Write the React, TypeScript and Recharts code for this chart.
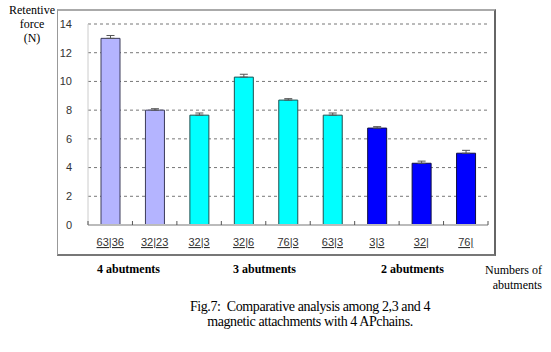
import React from 'react';
import { ComposedChart, Bar, Cell, XAxis, YAxis, CartesianGrid, ErrorBar } from 'recharts';

const labels = ['63|36', '32|23', '32|3', '32|6', '76|3', '63|3', '3|3', '32|', '76|'];
const values = [13.0, 8.0, 7.65, 10.3, 8.7, 7.65, 6.75, 4.3, 5.0];
const errors = [0.2, 0.1, 0.15, 0.2, 0.1, 0.15, 0.1, 0.15, 0.2];
const groups = [4, 4, 3, 3, 3, 3, 2, 2, 2];
const yTicks = [0, 2, 4, 6, 8, 10, 12, 14];

const groupColors: Record<number, string> = { 4: '#b4b4ff', 3: '#00ffff', 2: '#0000ff' };
const groupStroke: Record<number, string> = { 4: '#3c3c5a', 3: '#1e5050', 2: '#101040' };

const data = labels.map((name, i) => ({ name, value: values[i], err: [0, errors[i]], group: groups[i] }));

const serif = '"Liberation Serif", "Times New Roman", serif';
const sans = '"Liberation Sans", Arial, sans-serif';

const CategoryTick = (props: any) => {
  const { x, y, payload, index, visibleTicksCount } = props;
  const off = payload.offset || 22;
  return (
    <g>
      <line x1={x - off} x2={x - off} y1={y - 4} y2={y} stroke="#555" />
      {index === visibleTicksCount - 1 && (
        <line x1={x + off} x2={x + off} y1={y - 4} y2={y} stroke="#555" />
      )}
      <text x={x} y={y + 21} textAnchor="middle" fontSize={11} fill="#333" fontFamily={sans}
        textDecoration="underline">
        {payload.value}
      </text>
    </g>
  );
};

const abs = (left: number, top: number, extra: React.CSSProperties = {}): React.CSSProperties => ({
  position: 'absolute', left, top, fontFamily: serif, color: '#000', whiteSpace: 'nowrap', ...extra,
});

export default function App() {
  return (
    <div style={{ position: 'absolute', left: 0, top: 0, width: 551, height: 352, background: '#fff' }}>
      <div style={{ position: 'absolute', left: 57, top: 9, width: 436, height: 243,
        borderTop: '2px solid #aaa', borderLeft: '1px solid #999', borderRight: '2px solid #666',
        borderBottom: '2px solid #777' }} />
      <div style={{ position: 'absolute', left: 0, top: 0 }}>
        <ComposedChart width={551} height={352} data={data}
          margin={{ top: 24, right: 63, bottom: 97, left: 58 }}>
          <CartesianGrid horizontal vertical={false} strokeDasharray="3 3" stroke="#777" />
          <XAxis dataKey="name" height={30} tickSize={0} tickMargin={0} tickLine={false}
            axisLine={{ stroke: '#bbb', strokeWidth: 2 }} tick={<CategoryTick />} interval={0} />
          <YAxis width={30} domain={[0, 14]} ticks={yTicks} tickLine={false} tickSize={0} tickMargin={16}
            axisLine={{ stroke: '#ccc' }} tick={{ fontSize: 11, fill: '#333', fontFamily: sans }} />
          <Bar dataKey="value" barSize={19} isAnimationActive={false}>
            {data.map((d, i) => (
              <Cell key={i} fill={groupColors[d.group]} stroke={groupStroke[d.group]} strokeWidth={1} />
            ))}
            <ErrorBar dataKey="err" width={4} stroke="#555" strokeWidth={1} />
          </Bar>
        </ComposedChart>
      </div>
      <div style={abs(4, 3, { width: 56, textAlign: 'center', fontSize: 12, lineHeight: '14px' })}>
        Retentive<br />force<br />(N)
      </div>
      <div style={abs(97, 262, { fontSize: 12, fontWeight: 'bold' })}>4 abutments</div>
      <div style={abs(233, 262, { fontSize: 12, fontWeight: 'bold' })}>3 abutments</div>
      <div style={abs(381, 262, { fontSize: 12, fontWeight: 'bold' })}>2 abutments</div>
      <div style={abs(474, 263, { width: 68, textAlign: 'right', fontSize: 12, lineHeight: '15px' })}>
        Numbers of<br />abutments
      </div>
      <div style={abs(160, 299, { width: 300, textAlign: 'center', fontSize: 14, lineHeight: '15px',
        letterSpacing: -0.4 })}>
        Fig.7:&nbsp; Comparative analysis among 2,3 and 4<br />magnetic attachments with 4 APchains.
      </div>
    </div>
  );
}
